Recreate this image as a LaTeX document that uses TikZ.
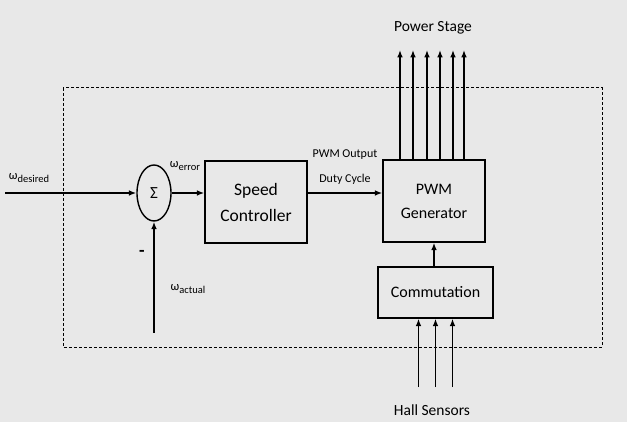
\documentclass[tikz,border=0pt]{standalone}
\usepackage{fontspec}
\setmainfont{Carlito}
\usetikzlibrary{arrows.meta,positioning,calc,shapes.geometric}
\newcommand{\omsub}[1]{ω\raisebox{-2.5pt}{\fontsize{10.5}{12}\selectfont #1}}
\tikzset{
  blkbox/.style={
    draw,
    line width=1.4pt,
    align=center,
    inner sep=2pt,
    font=\fontsize{16}{24}\selectfont
  },
  sumnode/.style={
    draw,
    ellipse,
    line width=1.4pt,
    minimum width=34pt,
    minimum height=56pt,
    inner sep=0pt,
    font=\fontsize{17}{18}\selectfont
  },
  sigarrow/.style={-{Latex[length=2.6mm,width=2mm]},line width=1.4pt},
  siglabel/.style={inner sep=1pt,font=\fontsize{12.5}{14}\selectfont}
}

\begin{document}
\begin{tikzpicture}[x=1pt,y=-1pt]
      \fill[black!9] (0,0) rectangle (627,422);
      \useasboundingbox (0,0) rectangle (627,422);
      % dashed frame
      \draw[line width=1pt,dash pattern=on 3pt off 2pt] (63,88) rectangle (602,347);
      % blocks
      \node[sumnode] (sum) at (154,193) {Σ};
      \node[blkbox,minimum width=102pt,minimum height=82pt,font=\fontsize{17.5}{26}\selectfont]
        (speed) at (256,202) {Speed\\Controller};
      \node[blkbox,minimum width=102pt,minimum height=82pt] (pwm) at (434,201) {PWM\\Generator};
      \node[blkbox,minimum width=115pt,minimum height=51pt] (comm) at (435.5,292.5) {Commutation};
      % free ends
      \coordinate (in) at (5,193);
      \coordinate (fb) at (154,333);
      \coordinate (pstop) at (433,50);
      \coordinate (hbot) at (435,387);
      % labels
      \node[siglabel] (wdes) at (29,178) {\omsub{desired}};
      \node[siglabel] (werr) at (185,166) {\omsub{error}};
      \node[siglabel] (wact) at (188,289) {\omsub{actual}};
      \node[siglabel,font=\bfseries\fontsize{18}{18}\selectfont] (minus) at (142,253) {-};
      \node[siglabel,align=center,font=\fontsize{12}{25}\selectfont] (duty) at (345,167) {PWM Output\\Duty Cycle};
      \node[siglabel,font=\fontsize{15.5}{18}\selectfont] (power) at (433,28) {Power Stage};
      \node[siglabel,font=\fontsize{15.5}{18}\selectfont] (hall) at (432,410) {Hall Sensors};
      % connectors
      \draw[sigarrow] (in) -- (sum.west);
      \draw[sigarrow] (fb) -- (sum.south);
      \draw[sigarrow] (sum.east) -- (speed.west |- sum.east);
      \draw[sigarrow] (speed.east |- sum.east) -- (pwm.west |- sum.east);
      \draw[sigarrow] (comm.north -| pwm.south) -- (pwm.south);
      \foreach \d in {-34,-21,-7,6,19,30}
        \draw[sigarrow] ([xshift=\d pt]pwm.north) -- ([xshift=\d pt]pwm.north |- pstop);
      \foreach \d in {-17,0,17}
        \draw[sigarrow] ([xshift=\d pt]comm.south |- hbot) -- ([xshift=\d pt]comm.south);
    \end{tikzpicture}
\end{document}
